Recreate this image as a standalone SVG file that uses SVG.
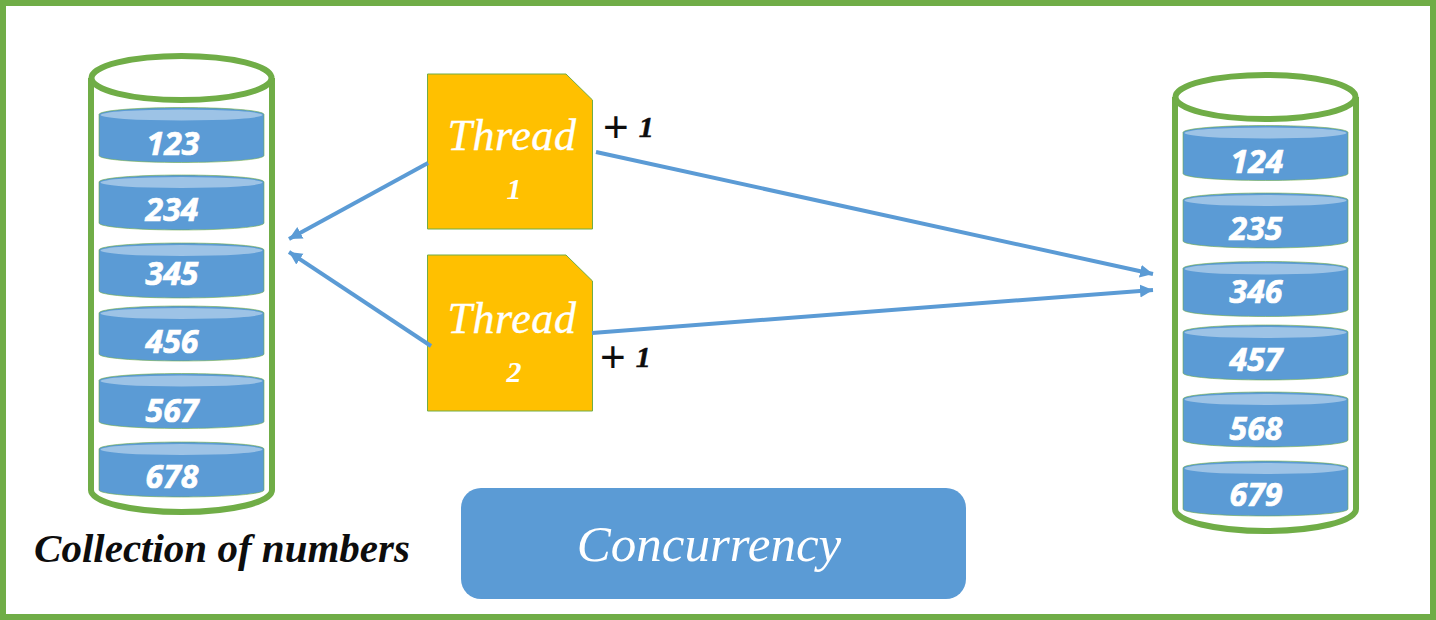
<svg xmlns="http://www.w3.org/2000/svg" xmlns:xlink="http://www.w3.org/1999/xlink" width="1436" height="620" viewBox="0 0 1436 620">
<style>
.cyl{fill:none;stroke:#70ad47;stroke-width:6}
.body{fill:#5b9bd5;stroke:#70ad47;stroke-width:.6}
.lid{fill:#9dc3e6}
.num{font-family:"Open Sans","Liberation Sans",sans-serif;font-weight:700;font-style:italic;font-size:32px;fill:#fff;stroke:#fff;stroke-width:.7;text-anchor:middle}
.note{fill:#ffc000;stroke:#70ad47;stroke-width:1}
.ser{font-family:"Liberation Serif",serif;font-style:italic;text-anchor:middle}
.th{font-size:44px;fill:#fff;letter-spacing:.6px;stroke:#fff;stroke-width:.4}
.thn{font-size:30px;font-weight:700;fill:#fff}
.plus{font-family:"Liberation Serif",serif;font-size:30px;font-weight:700;font-style:italic;fill:#0d0d0d;stroke:#0d0d0d;stroke-width:.5}
.plussign{font-family:"Liberation Sans",sans-serif;font-size:44px;font-weight:400;font-style:normal;stroke:none}
.conn{stroke:#5b9bd5;stroke-width:4;fill:none;marker-end:url(#arr)}
</style>
<defs>
<marker id="arr" markerUnits="userSpaceOnUse" markerWidth="14" markerHeight="14" refX="13" refY="7" orient="auto"><path d="M0,0.500L13,7L0,13.500z" fill="#5b9bd5"/></marker>
<g id="disk"><path class="body" d="M99,7C99,3 135,0 181.500,0S264,3 264,7V48C264,52 228,55 181.500,55S99,52 99,48z"/><ellipse class="lid" cx="181.500" cy="7.500" rx="81" ry="5.500"/></g>
</defs>
<rect width="1436" height="620" fill="#fff"/>
<rect x="3" y="3" width="1430" height="614" fill="none" stroke="#70ad47" stroke-width="6"/>
<g id="cylinder-left">
<path class="cyl" d="M91,78V490C91,502 131,512 181.500,512S272,502 272,490V78"/>
<ellipse class="cyl" cx="181.500" cy="78" rx="90" ry="22"/>
<use xlink:href="#disk" href="#disk" y="107.500"/><text class="num" x="173" y="155">123</text>
<use xlink:href="#disk" href="#disk" y="175"/><text class="num" x="172" y="221">234</text>
<use xlink:href="#disk" href="#disk" y="243"/><text class="num" x="172" y="285">345</text>
<use xlink:href="#disk" href="#disk" y="306"/><text class="num" x="172" y="353">456</text>
<use xlink:href="#disk" href="#disk" y="373.500"/><text class="num" x="172" y="422">567</text>
<use xlink:href="#disk" href="#disk" y="442"/><text class="num" x="172" y="488">678</text>
</g>
<g id="cylinder-right">
<path class="cyl" d="M1175,97V509C1175,521 1215,531 1265.500,531S1356,521 1356,509V97"/>
<ellipse class="cyl" cx="1265.500" cy="97" rx="90" ry="22"/>
<use xlink:href="#disk" href="#disk" x="1084" y="125.500"/><text class="num" x="1257" y="173">124</text>
<use xlink:href="#disk" href="#disk" x="1084" y="193"/><text class="num" x="1256" y="240">235</text>
<use xlink:href="#disk" href="#disk" x="1084" y="261.500"/><text class="num" x="1256" y="303">346</text>
<use xlink:href="#disk" href="#disk" x="1084" y="325"/><text class="num" x="1256" y="371">457</text>
<use xlink:href="#disk" href="#disk" x="1084" y="392"/><text class="num" x="1256" y="440">568</text>
<use xlink:href="#disk" href="#disk" x="1084" y="461"/><text class="num" x="1256" y="506">679</text>
</g>
<g id="thread-1">
<path class="note" d="M427.500,74H566L592.500,100V229H427.500z"/>
<text class="ser th" x="512" y="150">Thread</text>
<text class="ser thn" x="514" y="199">1</text>
</g>
<g id="thread-2">
<path class="note" d="M427.500,255H566L592.500,281V411H427.500z"/>
<text class="ser th" x="512" y="333">Thread</text>
<text class="ser thn" x="514" y="382">2</text>
</g>
<g id="connectors">
<path class="conn" d="M428,163L289,239"/>
<path class="conn" d="M431,346L289,252"/>
<path class="conn" d="M596,152L1153,274"/>
<path class="conn" d="M592,333L1153,290"/>
</g>
<g id="label-plus-1"><text class="plus" x="603" y="142"><tspan class="plussign">+</tspan><tspan dx="10" dy="-5">1</tspan></text></g>
<g id="label-plus-2"><text class="plus" x="600" y="372"><tspan class="plussign">+</tspan><tspan dx="10" dy="-5">1</tspan></text></g>
<g id="label-collection"><text class="ser" x="222" y="562" font-size="41" font-weight="700" fill="#0d0d0d">Collection of numbers</text></g>
<g id="concurrency">
<rect x="461" y="488" width="505" height="111" rx="20" fill="#5b9bd5"/>
<text class="ser" x="709" y="561" font-size="51" fill="#fff">Concurrency</text>
</g>
</svg>
